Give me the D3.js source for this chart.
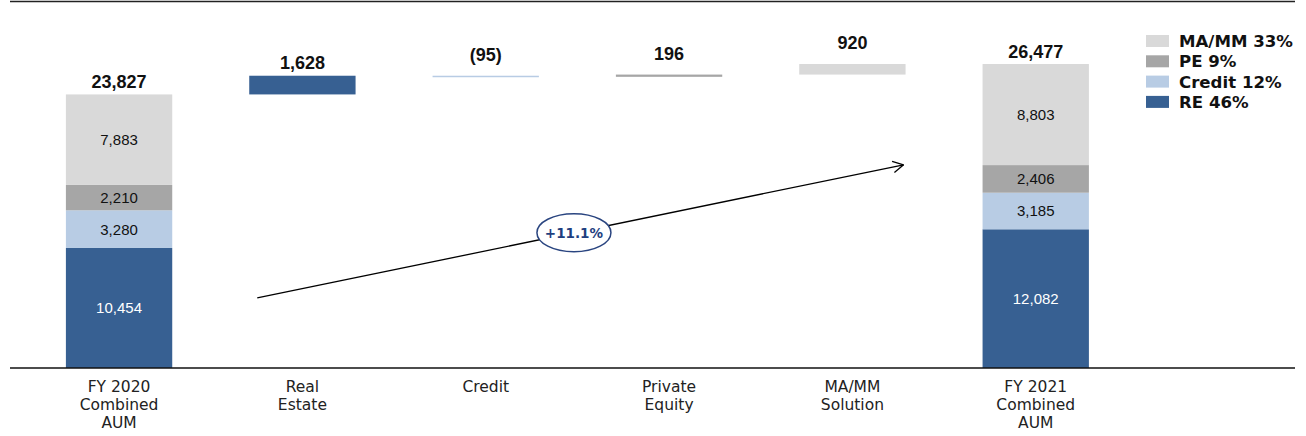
<!DOCTYPE html>
<html>
<head>
<meta charset="utf-8">
<script src="https://cdn.jsdelivr.net/npm/d3@7"></script>
<style>
  html, body { margin: 0; padding: 0; background: #fff; }
  svg { display: block; }
</style>
</head>
<body>
<svg id="chart" width="1306" height="436"></svg>
<script>
// Categories along the x axis (line breaks marked with \n)
const categories = [
  "FY 2020\nCombined\nAUM",
  "Real\nEstate",
  "Credit",
  "Private\nEquity",
  "MA/MM\nSolution",
  "FY 2021\nCombined\nAUM"
];

// Segment names, bottom to top in the stacked totals
const segments = ["RE", "Credit", "PE", "MA/MM"];
const legendLabels = ["RE 46%", "Credit 12%", "PE 9%", "MA/MM 33%"];

// Stacked composition of the two totals
const fy2020Values = [10454, 3280, 2210, 7883];
const fy2021Values = [12082, 3185, 2406, 8803];
const totalLabels = [23827, 26477];

// Year-over-year change per strategy (waterfall steps)
const changeValues = [1628, -95, 196, 920];

const growthLabel = "+11.1%";

const colors = {
  "RE": "#376092",
  "Credit": "#b8cce4",
  "PE": "#a6a6a6",
  "MA/MM": "#d9d9d9"
};

const svg = d3.select("#chart");
const baseY = 368;

const x = d3.scaleBand()
  .domain(categories)
  .range([27.4, 1127.4])
  .paddingInner(0.42)
  .paddingOuter(0.21);

const y = d3.scaleLinear()
  .domain([0, d3.max(totalLabels)])
  .range([baseY, 64]);

const numFmt = d3.format(",");
const fmtChange = v => v < 0 ? "(" + numFmt(-v) + ")" : numFmt(v);

// Top rule
svg.append("line")
  .attr("x1", 10).attr("x2", 1295)
  .attr("y1", 1.5).attr("y2", 1.5)
  .attr("stroke", "#222").attr("stroke-width", 1.5);

// Build stacked totals
function stackOf(vals) {
  let acc = 0;
  return vals.map((v, i) => {
    const d = { key: segments[i], value: v, y0: acc, y1: acc + v };
    acc += v;
    return d;
  });
}
const totalsData = [
  { cat: categories[0], parts: stackOf(fy2020Values), label: totalLabels[0] },
  { cat: categories[5], parts: stackOf(fy2021Values), label: totalLabels[1] }
];

const totalsG = svg.append("g");
totalsData.forEach(t => {
  const g = totalsG.append("g");
  g.selectAll("rect")
    .data(t.parts)
    .join("rect")
    .attr("x", x(t.cat))
    .attr("width", x.bandwidth())
    .attr("y", d => y(d.y1))
    .attr("height", d => y(d.y0) - y(d.y1))
    .attr("fill", d => colors[d.key]);
  g.selectAll("text.seg")
    .data(t.parts)
    .join("text")
    .attr("class", "seg")
    .attr("x", x(t.cat) + x.bandwidth() / 2)
    .attr("y", d => (y(d.y0) + y(d.y1)) / 2)
    .attr("dy", "0.36em")
    .attr("text-anchor", "middle")
    .attr("font-family", "'Liberation Sans', Arial, sans-serif")
    .attr("font-size", 15)
    .attr("fill", d => d.key === "RE" ? "#ffffff" : "#111")
    .text(d => numFmt(d.value));
  g.append("text")
    .attr("x", x(t.cat) + x.bandwidth() / 2)
    .attr("y", y(t.label) - 6)
    .attr("text-anchor", "middle")
    .attr("font-family", "'Liberation Sans', Arial, sans-serif")
    .attr("font-weight", "bold")
    .attr("font-size", 18)
    .attr("fill", "#111")
    .text(numFmt(t.label));
});

// Waterfall steps
let running = d3.sum(fy2020Values);
const steps = changeValues.map((v, i) => {
  const start = running;
  running += v;
  return { cat: categories[i + 1], key: segments[i], value: v, start, end: running };
});

const stepG = svg.append("g");
stepG.selectAll("rect")
  .data(steps)
  .join("rect")
  .attr("x", d => x(d.cat))
  .attr("width", x.bandwidth())
  .attr("y", d => y(Math.max(d.start, d.end)))
  .attr("height", d => Math.max(1.5, Math.abs(y(d.start) - y(d.end))))
  .attr("fill", d => colors[d.key]);

stepG.selectAll("text")
  .data(steps)
  .join("text")
  .attr("x", d => x(d.cat) + x.bandwidth() / 2)
  .attr("y", d => {
    const h = Math.abs(y(d.start) - y(d.end));
    return y(Math.max(d.start, d.end)) - (h > 15 ? 7 : 15);
  })
  .attr("text-anchor", "middle")
  .attr("font-family", "'Liberation Sans', Arial, sans-serif")
  .attr("font-weight", "bold")
  .attr("font-size", 18)
  .attr("fill", "#111")
  .text(d => fmtChange(d.value));

// Baseline
svg.append("line")
  .attr("x1", 10).attr("x2", 1295)
  .attr("y1", baseY).attr("y2", baseY)
  .attr("stroke", "#111").attr("stroke-width", 1.3);

// Category labels
const catG = svg.append("g");
categories.forEach(c => {
  const t = catG.append("text")
    .attr("x", x(c) + x.bandwidth() / 2)
    .attr("y", 392)
    .attr("text-anchor", "middle")
    .attr("font-family", "'DejaVu Sans', Verdana, sans-serif")
    .attr("font-size", 15.5)
    .attr("fill", "#222");
  c.split("\n").forEach((line, i) => {
    t.append("tspan")
      .attr("x", x(c) + x.bandwidth() / 2)
      .attr("dy", i === 0 ? 0 : 18)
      .text(line);
  });
});

// Growth arrow from the 2020 level towards the 2021 level
const p0 = [x(categories[1]) + 8, y(6100)];
const p1 = [x(categories[4]) + x.bandwidth() - 2, y(17700)];
const arrowG = svg.append("g");
arrowG.append("line")
  .attr("x1", p0[0]).attr("y1", p0[1])
  .attr("x2", p1[0]).attr("y2", p1[1])
  .attr("stroke", "#000").attr("stroke-width", 1.3);
const ang = Math.atan2(p1[1] - p0[1], p1[0] - p0[0]);
const headLen = 12, headAng = 0.5;
[1, -1].forEach(s => {
  arrowG.append("line")
    .attr("x1", p1[0]).attr("y1", p1[1])
    .attr("x2", p1[0] - headLen * Math.cos(ang + s * headAng))
    .attr("y2", p1[1] - headLen * Math.sin(ang + s * headAng))
    .attr("stroke", "#000").attr("stroke-width", 1.3);
});

// CAGR badge on the arrow
const t = 0.49;
const cx = p0[0] + (p1[0] - p0[0]) * t;
const cy = p0[1] + (p1[1] - p0[1]) * t;
arrowG.append("ellipse")
  .attr("cx", cx).attr("cy", cy)
  .attr("rx", 37).attr("ry", 19)
  .attr("fill", "#fff")
  .attr("stroke", "#2a4580").attr("stroke-width", 1.5);
arrowG.append("text")
  .attr("x", cx).attr("y", cy)
  .attr("dy", "0.36em")
  .attr("text-anchor", "middle")
  .attr("font-family", "'DejaVu Sans', Verdana, sans-serif")
  .attr("font-weight", "bold")
  .attr("font-size", 13.5)
  .attr("fill", "#1f3f7f")
  .text(growthLabel);

// Legend (top to bottom: MA/MM, PE, Credit, RE)
const legendOrder = d3.range(segments.length).reverse();
const legG = svg.append("g");
legendOrder.forEach((idx, row) => {
  const yy = 35 + row * 20.3;
  legG.append("rect")
    .attr("x", 1146).attr("y", yy)
    .attr("width", 23).attr("height", 12)
    .attr("fill", colors[segments[idx]]);
  legG.append("text")
    .attr("x", 1179).attr("y", yy + 6)
    .attr("dy", "0.36em")
    .attr("font-family", "'DejaVu Sans', Verdana, sans-serif")
    .attr("font-weight", "bold")
    .attr("font-size", 16.6)
    .attr("fill", "#111")
    .text(legendLabels[idx]);
});
</script>
</body>
</html>
